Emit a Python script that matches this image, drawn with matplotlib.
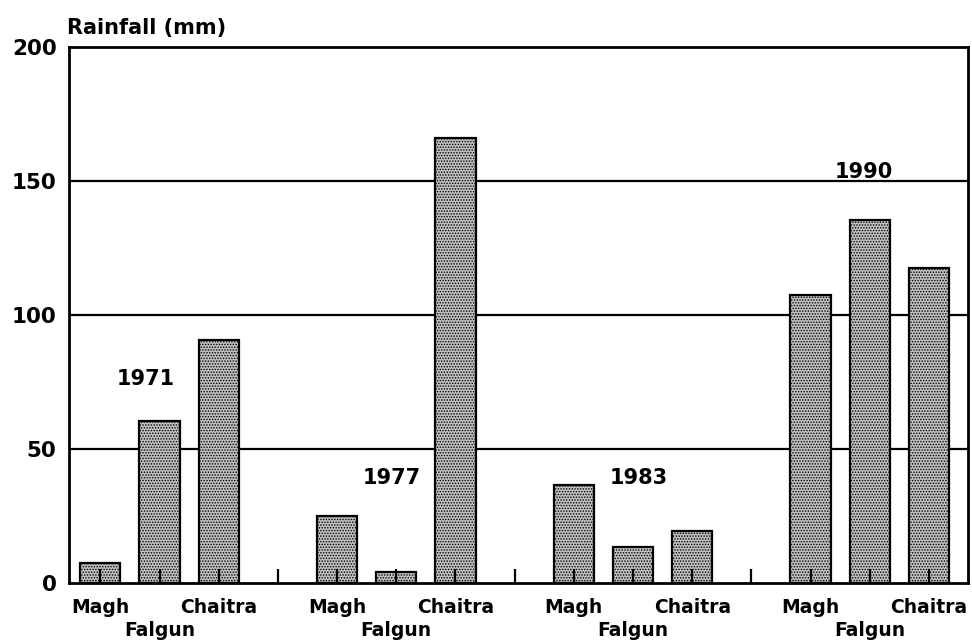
import numpy as np
import matplotlib.pyplot as plt
import matplotlib.transforms as mtransforms

years = ['1971', '1977', '1983', '1990']
months = ['Magh', 'Falgun', 'Chaitra']
rain_1971 = [7.5, 60.5, 90.5]
rain_1977 = [25, 4, 166]
rain_1983 = [36.5, 13.5, 19.5]
rain_1990 = [107.5, 135.5, 117.5]
year_label_pos = [(0.76, 76), (4.93, 39), (9.1, 39), (12.9, 153.5)]

plt.rcParams['font.family'] = ['DejaVu Sans']
plt.rcParams['font.weight'] = 'bold'
plt.rcParams['hatch.linewidth'] = 0.7

fig = plt.figure(figsize=(9.72, 6.43), dpi=100)
ax = fig.add_axes([69 / 972, 60 / 643, 899 / 972, 536 / 643])
ax.set_axisbelow(False)

all_rain = [rain_1971, rain_1977, rain_1983, rain_1990]
xs = []
for g, vals in enumerate(all_rain):
    x = 4 * g + np.arange(3)
    xs.extend(x)
    ax.bar(x, vals, width=0.68, facecolor='#c0c0c0', edgecolor='black',
           hatch='......', linewidth=1.6, zorder=2)

for yv in [50, 100, 150]:
    ax.axhline(yv, color='black', lw=1.6, zorder=1)

for (lx, ly), yr in zip(year_label_pos, years):
    ax.text(lx, ly, yr, ha='center', va='center', fontsize=15, fontweight='bold')

ax.set_xlim(-0.53, 14.66)
ax.set_ylim(0, 200)
ax.set_xticks(xs)
# Falgun sits on a second line, drawn separately below
ax.set_xticklabels([m if m != 'Falgun' else '' for m in months] * 4,
                   fontsize=13.5, fontweight='bold')
ax.set_xticks([3, 7, 11], minor=True)
ax.tick_params(axis='x', which='both', direction='in', length=10, width=1.6, pad=11)
trans = mtransforms.blended_transform_factory(ax.transData, ax.transAxes)
for g in range(len(years)):
    ax.text(4 * g + 1, -48 / 536, months[1], transform=trans, ha='center',
            va='center', fontsize=13.5, fontweight='bold')
ax.set_yticks([0, 50, 100, 150, 200])
ax.set_yticklabels(['0', '50', '100', '150', '200'], fontsize=15.5, fontweight='bold')
ax.tick_params(axis='y', length=0, pad=9)
for s in ax.spines.values():
    s.set_linewidth(2)

fig.text(67 / 972, 1 - 28 / 643, 'Rainfall (mm)', ha='left', va='center',
         fontsize=15, fontweight='bold')

fig.savefig('out.png', dpi=100)
